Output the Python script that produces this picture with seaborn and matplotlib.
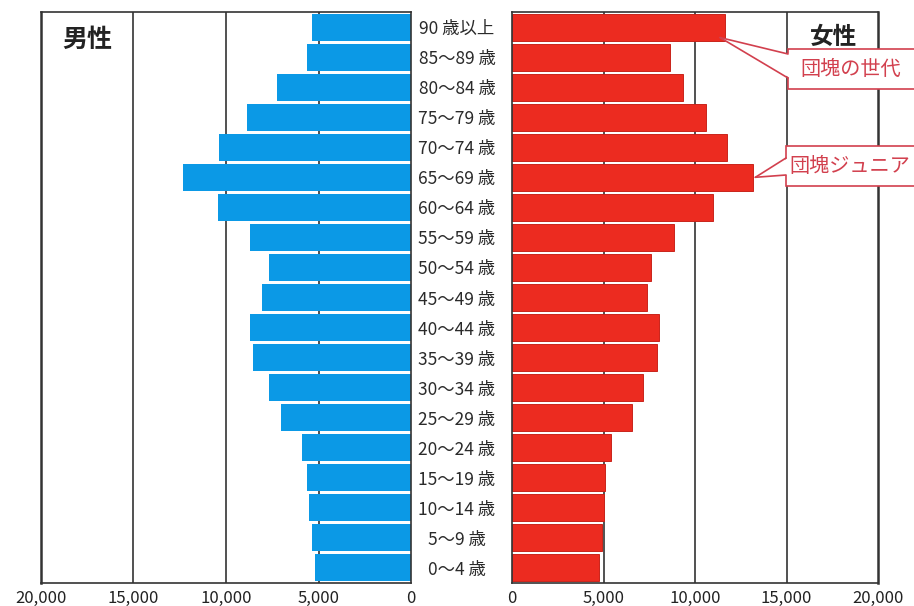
import matplotlib
matplotlib.use("Agg")
import matplotlib.pyplot as plt
from matplotlib.patches import Rectangle, Polygon
from matplotlib.lines import Line2D
from matplotlib.transforms import Affine2D
import pandas as pd
import seaborn as sns

# Population by five-year age group (persons)
age_groups = ["90 歳以上", "85〜89 歳", "80〜84 歳", "75〜79 歳", "70〜74 歳",
              "65〜69 歳", "60〜64 歳", "55〜59 歳", "50〜54 歳", "45〜49 歳",
              "40〜44 歳", "35〜39 歳", "30〜34 歳", "25〜29 歳", "20〜24 歳",
              "15〜19 歳", "10〜14 歳", "5〜9 歳", "0〜4 歳"]
male = [5370, 5600, 7230, 8850, 10380, 12340, 10420, 8700, 7660, 8070,
        8700, 8560, 7660, 7030, 5910, 5640, 5500, 5370, 5170]
female = [11640, 8630, 9360, 10600, 11770, 13190, 11000, 8850, 7580, 7400,
          8030, 7940, 7140, 6540, 5390, 5100, 5050, 4900, 4750]

x_ticks = [0, 5000, 10000, 15000, 20000]
x_tick_labels = ["0", "5,000", "10,000", "15,000", "20,000"]
grid_values = [5000, 10000, 15000]

sex_labels = ["男性", "女性"]
callout_texts = ["団塊の世代", "団塊ジュニア"]
callout_groups = ["90 歳以上", "65〜69 歳"]

BLUE = "#0B99E6"
RED = "#EC2B20"
LINE = "#333333"
CALLOUT = "#D2404E"

sns.set_theme(style="white")
plt.rcParams["font.family"] = ["Noto Sans CJK JP", "DejaVu Sans"]

W, H = 914, 606
fig = plt.figure(figsize=(W / 100, H / 100), dpi=100, facecolor="white")
# pixel coordinates measured from the top-left corner of the figure
px = Affine2D().scale(1 / W, -1 / H).translate(0, 1) + fig.transFigure


def rect(x0, y0, x1, y1):
    return [x0 / W, 1 - y1 / H, (x1 - x0) / W, (y1 - y0) / H]


axL = fig.add_axes(rect(41, 12, 411, 583))
axR = fig.add_axes(rect(512, 12, 878, 583))

df = pd.DataFrame({"age": age_groups, "male": male, "female": female})

sns.barplot(data=df, x="male", y="age", order=age_groups, ax=axL,
            color=BLUE, saturation=1, width=0.9, linewidth=0)
sns.barplot(data=df, x="female", y="age", order=age_groups, ax=axR,
            color=RED, saturation=1, width=0.9, linewidth=0.7,
            edgecolor="#C9241B")

axL.set_xlim(20000, 0)
axR.set_xlim(0, 20000)

for ax in (axL, axR):
    ax.set_xlabel("")
    ax.set_ylabel("")
    for v in grid_values:
        ax.axvline(v, color=LINE, lw=1.2, zorder=0.5)
    for s in ax.spines.values():
        s.set_color(LINE)
        s.set_linewidth(1.2)
    ax.set_xticks(x_ticks)
    ax.set_xticklabels(x_tick_labels)
    ax.tick_params(axis="x", length=0, pad=5, labelsize=12, labelcolor="#222222")

axL.spines["left"].set_linewidth(1.8)
axR.spines["right"].set_linewidth(1.8)

axL.tick_params(axis="y", left=False, labelleft=False)
axR.tick_params(axis="y", length=0, pad=55 * 72 / 100, labelsize=12.5,
                labelcolor="#2a2a2a")
for lbl in axR.get_yticklabels():
    lbl.set_horizontalalignment("center")

fig.text(87, 40, sex_labels[0], transform=px, ha="center", va="center",
         fontsize=18, fontweight="bold", color="#222222")
fig.text(834, 37, sex_labels[1], transform=px, ha="center", va="center",
         fontsize=17, fontweight="bold", color="#222222")

fig.canvas.draw()


def to_px(ax, x, y):
    dx, dy = ax.transData.transform((x, y))
    return dx * W / fig.bbox.width, H - dy * H / fig.bbox.height


# callout boxes: (box left, top, bottom), wedge base (top, bottom), text x, tip offset
callout_layout = [
    ((788, 49, 89), (54, 78), 800, (-5, 0.35)),
    ((786, 146, 186), (158, 175), 789, (2, 0.0)),
]

for text, group, ((x0, y0, y1), (wb0, wb1), tx, (dx, dy)) in zip(
        callout_texts, callout_groups, callout_layout):
    idx = age_groups.index(group)
    tip_x, tip_y = to_px(axR, female[idx], idx + dy)
    tip_x += dx
    fig.add_artist(Rectangle((x0, y0), 200, y1 - y0, transform=px,
                             facecolor="white", edgecolor=CALLOUT, lw=1.2,
                             zorder=5, clip_on=False))
    fig.add_artist(Polygon([(tip_x, tip_y), (x0 + 2, wb0), (x0 + 2, wb1)],
                           closed=True, transform=px, facecolor="white",
                           edgecolor="none", zorder=6, clip_on=False))
    for wy in (wb0, wb1):
        fig.add_artist(Line2D([tip_x, x0], [tip_y, wy], transform=px,
                              color=CALLOUT, lw=1.2, zorder=7))
    fig.text(tx, (y0 + y1) / 2, text, transform=px, ha="left", va="center",
             fontsize=14.5, color=CALLOUT, zorder=8)

fig.savefig("out.png", dpi=100, facecolor="white")
